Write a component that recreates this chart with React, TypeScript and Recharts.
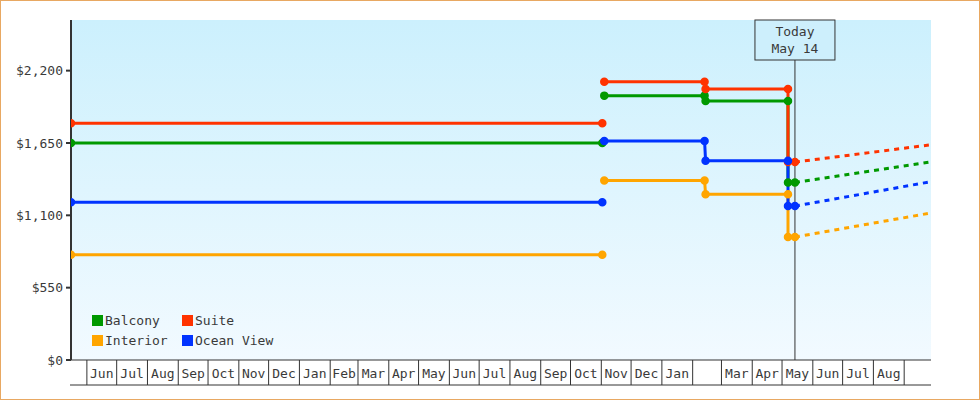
import React from 'react';
import {
  LineChart,
  Line,
  XAxis,
  YAxis,
  CartesianGrid,
  ReferenceLine,
  Legend,
} from 'recharts';

// dates and prices of the fare history
const POINT_DATES = [
  '2022-05-16', '2023-11-02', '2023-11-03', '2023-11-04',
  '2024-02-13', '2024-02-14', '2024-05-07', '2024-05-07', '2024-05-14',
];
const BALCONY = [1650, 1650, null, 2010, 2010, 1970, 1970, 1350, 1350];
const SUITE = [1800, 1800, null, 2115, 2115, 2060, 2060, 1505, 1505];
const INTERIOR = [800, 800, null, 1365, 1365, 1260, 1260, 935, 935];
const OCEAN_VIEW = [1200, 1200, null, 1665, 1665, 1515, 1515, 1170, 1170];

// projected prices
const FORECAST_DATES = ['2024-05-14', '2024-09-28'];
const BALCONY_FC = [1350, 1507];
const SUITE_FC = [1505, 1636];
const INTERIOR_FC = [935, 1118];
const OCEAN_VIEW_FC = [1170, 1356];

const SERIES = [
  { key: 'balcony', name: 'Balcony', color: '#009900' },
  { key: 'suite', name: 'Suite', color: '#ff3300' },
  { key: 'interior', name: 'Interior', color: '#ffa500' },
  { key: 'ocean', name: 'Ocean View', color: '#0033ff' },
];

const Y_TICKS = [0, 550, 1100, 1650, 2200];
const Y_MAX = 2585;

const TODAY = '2024-05-14';
const TODAY_LABEL = ['Today', 'May 14'];
const DOMAIN_START = '2022-05-16';
const DOMAIN_END = '2024-09-28';

// month cells from Jun 2022 on; the Feb 2024 cell has no label
const FIRST_MONTH = [2022, 5];
const MONTH_LABELS = [
  'Jun', 'Jul', 'Aug', 'Sep', 'Oct', 'Nov', 'Dec', 'Jan', 'Feb', 'Mar', 'Apr', 'May',
  'Jun', 'Jul', 'Aug', 'Sep', 'Oct', 'Nov', 'Dec', 'Jan', '', 'Mar', 'Apr', 'May',
  'Jun', 'Jul', 'Aug',
];

const FONT = '"DejaVu Sans Mono", monospace';
const INK = '#333';
const TEXT = '#3a3a3a';

const day = (s: string) => {
  const [y, m, d] = s.split('-').map(Number);
  return Date.UTC(y, m - 1, d) / 86400000;
};
const monthStart = (i: number) => Date.UTC(FIRST_MONTH[0], FIRST_MONTH[1] + i, 1) / 86400000;

const historyRows = POINT_DATES.map((d, i) => ({
  t: day(d),
  balcony: BALCONY[i],
  suite: SUITE[i],
  interior: INTERIOR[i],
  ocean: OCEAN_VIEW[i],
}));
const forecastRows = FORECAST_DATES.map((d, i) => ({
  t: day(d),
  balconyFc: BALCONY_FC[i],
  suiteFc: SUITE_FC[i],
  interiorFc: INTERIOR_FC[i],
  oceanFc: OCEAN_VIEW_FC[i],
}));
const data = [...historyRows, ...forecastRows];

const separators = Array.from({ length: MONTH_LABELS.length + 1 }, (_, i) => monthStart(i));
const labelAt = new Map<number, string>();
MONTH_LABELS.forEach((l, i) => labelAt.set((monthStart(i) + monthStart(i + 1)) / 2, l));
const xTicks = [...separators, ...labelAt.keys()].sort((a, b) => a - b);

const fmt = (n: number) => '$' + n.toLocaleString('en-US');

function MonthTick({ x, y, payload }: any) {
  const label = labelAt.get(payload.value);
  if (label === undefined) {
    return <line x1={x} x2={x} y1={y} y2={y + 25} stroke={INK} strokeWidth={1} />;
  }
  return (
    <text x={x} y={y + 18} textAnchor="middle" fontFamily={FONT} fontSize={13} fill={TEXT}>
      {label}
    </text>
  );
}

function TodayLabel({ viewBox }: any) {
  const cx = viewBox.x;
  const top = viewBox.y;
  return (
    <g>
      <rect x={cx - 40} y={top} width={80} height={40} fill="#cdeffc" stroke={INK} strokeWidth={1} />
      <text x={cx} y={top + 16} textAnchor="middle" fontFamily={FONT} fontSize={13} fill={TEXT}>
        {TODAY_LABEL[0]}
      </text>
      <text x={cx} y={top + 33} textAnchor="middle" fontFamily={FONT} fontSize={13} fill={TEXT}>
        {TODAY_LABEL[1]}
      </text>
    </g>
  );
}

function LegendBox() {
  return (
    <div
      style={{
        display: 'grid',
        gridTemplateColumns: '90px auto',
        rowGap: 5,
        fontFamily: FONT,
        fontSize: 13,
        color: TEXT,
      }}
    >
      {SERIES.map((s) => (
        <div key={s.key} style={{ display: 'flex', alignItems: 'center', gap: 2, height: 15 }}>
          <span style={{ width: 11, height: 11, background: s.color, display: 'inline-block' }} />
          <span>{s.name}</span>
        </div>
      ))}
    </div>
  );
}

export default function App() {
  return (
    <div style={{ position: 'absolute', left: 0, top: 0, width: 980, height: 400, background: '#fff' }}>
      <LineChart
        width={980}
        height={400}
        data={data}
        margin={{ top: 20, right: 49, bottom: 0, left: 0 }}
      >
        <defs>
          <linearGradient id="plotBg" x1="0" y1="0" x2="0" y2="1">
            <stop offset="0%" stopColor="#ccf0fd" />
            <stop offset="100%" stopColor="#f2faff" />
          </linearGradient>
        </defs>
        <CartesianGrid horizontal={false} vertical={false} fill="url(#plotBg)" />
        <XAxis
          dataKey="t"
          type="number"
          domain={[day(DOMAIN_START), day(DOMAIN_END)]}
          ticks={xTicks}
          interval={0}
          tick={<MonthTick />}
          tickLine={false}
          tickSize={0}
          tickMargin={0}
          height={40}
          axisLine={{ stroke: INK, strokeWidth: 1 }}
          allowDataOverflow
        />
        <YAxis
          type="number"
          domain={[0, Y_MAX]}
          ticks={Y_TICKS}
          width={71}
          tickFormatter={fmt}
          tick={{ fontFamily: FONT, fontSize: 13, fill: TEXT }}
          tickSize={5}
          tickMargin={3}
          tickLine={{ stroke: INK, strokeWidth: 2 }}
          axisLine={{ stroke: INK, strokeWidth: 2 }}
        />
        <ReferenceLine
          x={day(TODAY)}
          stroke={INK}
          strokeWidth={1}
          label={<TodayLabel />}
        />
        {SERIES.map((s) => (
          <Line
            key={s.key + 'Fc'}
            dataKey={s.key + 'Fc'}
            stroke={s.color}
            strokeWidth={3}
            strokeDasharray="5 5"
            dot={false}
            activeDot={false}
            legendType="none"
            isAnimationActive={false}
          />
        ))}
        {SERIES.map((s) => (
          <Line
            key={s.key}
            dataKey={s.key}
            name={s.name}
            stroke={s.color}
            strokeWidth={3}
            dot={{ r: 3.5, fill: s.color, stroke: s.color, strokeWidth: 1.5 }}
            activeDot={false}
            connectNulls={false}
            isAnimationActive={false}
          />
        ))}
        <line x1={70} x2={931} y1={385} y2={385} stroke={INK} strokeWidth={1} />
        <Legend
          layout="horizontal"
          verticalAlign="middle"
          content={<LegendBox />}
          wrapperStyle={{ position: 'absolute', left: 92, top: 313, width: 'auto', height: 'auto' }}
        />
      </LineChart>
      <div
        style={{
          position: 'absolute',
          left: 0,
          top: 0,
          width: 980,
          height: 400,
          boxSizing: 'border-box',
          border: '1px solid #e8a862',
          pointerEvents: 'none',
        }}
      />
    </div>
  );
}
